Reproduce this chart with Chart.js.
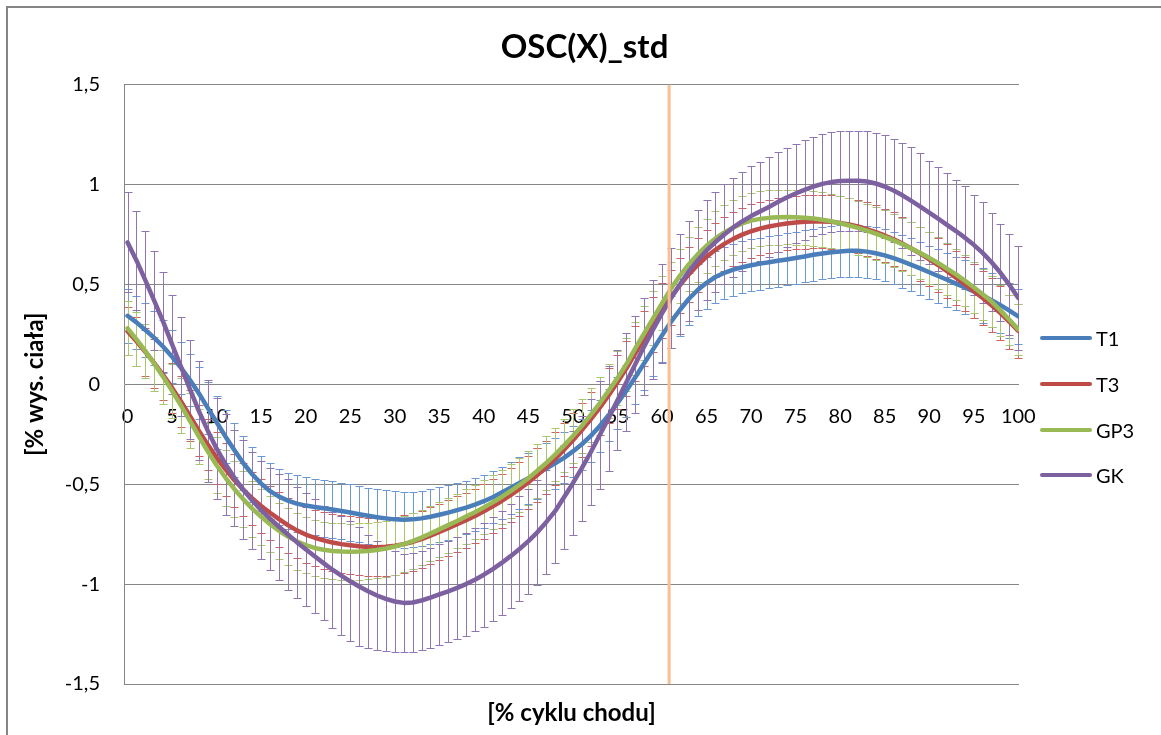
<!DOCTYPE html>
<html lang="pl">
<head>
<meta charset="utf-8">
<title>OSC(X)_std</title>
<script src="https://cdn.jsdelivr.net/npm/chart.js@4.4.1/dist/chart.umd.min.js"></script>
<style>
    html, body { margin: 0; padding: 0; background: #fff; overflow: hidden; }
    #frame {
        position: absolute; left: 6px; top: 6px; width: 1200px; height: 800px;
        border: 2px solid #858585; box-sizing: border-box;
    }
    #wrap { position: absolute; left: 0; top: 0; width: 1161px; height: 735px; }
    #legend { position: absolute; left: 1040px; top: 0; font-family: Lato, sans-serif; font-size: 20px; color: #000; }
    .legend-item { position: absolute; left: 0; height: 24px; line-height: 24px; display: flex; align-items: center; white-space: nowrap; }
    .legend-line { display: inline-block; width: 52px; height: 4px; border-radius: 2px; margin-right: 4px; }
</style>
</head>
<body>
<div id="frame"></div>
<div id="wrap"><canvas id="chart" width="1161" height="735"></canvas></div>
<div id="legend"></div>
<script>
// % of gait cycle
const cycle = [
    0, 1, 2, 3, 4, 5, 6, 7, 8, 9, 10, 11, 12, 13, 14, 15, 16, 17, 18, 19,
    20, 21, 22, 23, 24, 25, 26, 27, 28, 29, 30, 31, 32, 33, 34, 35, 36, 37, 38, 39,
    40, 41, 42, 43, 44, 45, 46, 47, 48, 49, 50, 51, 52, 53, 54, 55, 56, 57, 58, 59,
    60, 61, 62, 63, 64, 65, 66, 67, 68, 69, 70, 71, 72, 73, 74, 75, 76, 77, 78, 79,
    80, 81, 82, 83, 84, 85, 86, 87, 88, 89, 90, 91, 92, 93, 94, 95, 96, 97, 98, 99, 100
];
const xTicks = [0, 5, 10, 15, 20, 25, 30, 35, 40, 45, 50, 55, 60, 65, 70, 75, 80, 85, 90, 95, 100];
const yTicks = [-1.5, -1, -0.5, 0, 0.5, 1, 1.5];
const stanceEnd = 60.8;

const seriesNames = ['T1', 'T3', 'GP3', 'GK'];

const t1Mean = [
    0.343, 0.310, 0.272, 0.232, 0.188, 0.138, 0.082, 0.022, -0.045, -0.118,
    -0.190, -0.262, -0.330, -0.395, -0.450, -0.497, -0.535, -0.562, -0.582, -0.597,
    -0.607, -0.614, -0.620, -0.627, -0.634, -0.642, -0.650, -0.658, -0.665, -0.671,
    -0.676, -0.678, -0.676, -0.671, -0.663, -0.653, -0.642, -0.630, -0.617, -0.602,
    -0.585, -0.565, -0.542, -0.518, -0.494, -0.470, -0.446, -0.422, -0.396, -0.368,
    -0.336, -0.300, -0.258, -0.210, -0.155, -0.095, -0.032, 0.035, 0.105, 0.175,
    0.245, 0.312, 0.372, 0.427, 0.472, 0.508, 0.537, 0.558, 0.574, 0.586,
    0.596, 0.604, 0.611, 0.618, 0.625, 0.632, 0.640, 0.648, 0.655, 0.661,
    0.665, 0.668, 0.668, 0.664, 0.656, 0.645, 0.631, 0.615, 0.598, 0.580,
    0.561, 0.542, 0.523, 0.504, 0.485, 0.465, 0.444, 0.421, 0.396, 0.369,
    0.340
];
const t1Std = [
    0.135, 0.134, 0.134, 0.133, 0.133, 0.132, 0.132, 0.131, 0.131, 0.132,
    0.133, 0.134, 0.135, 0.136, 0.137, 0.138, 0.139, 0.140, 0.140, 0.141,
    0.141, 0.142, 0.142, 0.142, 0.142, 0.141, 0.141, 0.141, 0.140, 0.140,
    0.140, 0.140, 0.139, 0.139, 0.138, 0.137, 0.136, 0.135, 0.134, 0.133,
    0.132, 0.131, 0.130, 0.129, 0.128, 0.128, 0.127, 0.127, 0.127, 0.127,
    0.128, 0.128, 0.129, 0.130, 0.130, 0.131, 0.131, 0.132, 0.132, 0.132,
    0.132, 0.132, 0.131, 0.131, 0.130, 0.130, 0.130, 0.130, 0.130, 0.130,
    0.130, 0.130, 0.130, 0.130, 0.130, 0.130, 0.130, 0.130, 0.130, 0.130,
    0.130, 0.130, 0.130, 0.130, 0.130, 0.130, 0.131, 0.131, 0.132, 0.132,
    0.133, 0.133, 0.134, 0.134, 0.135, 0.135, 0.136, 0.136, 0.137, 0.137,
    0.138
];

const t3Mean = [
    0.265, 0.215, 0.162, 0.106, 0.046, -0.018, -0.086, -0.158, -0.232, -0.302,
    -0.367, -0.426, -0.480, -0.528, -0.571, -0.609, -0.643, -0.675, -0.705, -0.731,
    -0.752, -0.768, -0.781, -0.792, -0.800, -0.806, -0.811, -0.814, -0.815, -0.813,
    -0.808, -0.800, -0.789, -0.775, -0.758, -0.739, -0.720, -0.700, -0.680, -0.659,
    -0.636, -0.611, -0.584, -0.555, -0.524, -0.490, -0.454, -0.415, -0.373, -0.328,
    -0.280, -0.229, -0.175, -0.118, -0.056, 0.010, 0.080, 0.155, 0.230, 0.300,
    0.370, 0.435, 0.495, 0.550, 0.597, 0.638, 0.673, 0.703, 0.728, 0.749,
    0.766, 0.779, 0.790, 0.798, 0.805, 0.810, 0.813, 0.815, 0.815, 0.813,
    0.808, 0.800, 0.790, 0.777, 0.762, 0.745, 0.726, 0.704, 0.680, 0.654,
    0.626, 0.597, 0.566, 0.534, 0.501, 0.467, 0.432, 0.395, 0.356, 0.313,
    0.267
];
const t3Std = [
    0.120, 0.121, 0.122, 0.123, 0.124, 0.125, 0.126, 0.127, 0.128, 0.129,
    0.130, 0.131, 0.132, 0.133, 0.134, 0.135, 0.136, 0.137, 0.138, 0.139,
    0.140, 0.141, 0.142, 0.143, 0.144, 0.145, 0.145, 0.145, 0.145, 0.145,
    0.145, 0.144, 0.144, 0.143, 0.142, 0.141, 0.140, 0.139, 0.138, 0.137,
    0.136, 0.135, 0.134, 0.134, 0.133, 0.133, 0.133, 0.133, 0.133, 0.133,
    0.134, 0.134, 0.135, 0.135, 0.136, 0.136, 0.137, 0.137, 0.137, 0.137,
    0.137, 0.137, 0.137, 0.136, 0.136, 0.136, 0.135, 0.135, 0.135, 0.135,
    0.135, 0.134, 0.134, 0.134, 0.134, 0.134, 0.134, 0.134, 0.134, 0.134,
    0.134, 0.134, 0.134, 0.134, 0.134, 0.134, 0.134, 0.134, 0.134, 0.135,
    0.135, 0.135, 0.135, 0.135, 0.135, 0.135, 0.135, 0.135, 0.135, 0.135,
    0.135
];

const gp3Mean = [
    0.280, 0.225, 0.166, 0.103, 0.037, -0.033, -0.107, -0.183, -0.260, -0.335,
    -0.405, -0.468, -0.525, -0.576, -0.622, -0.663, -0.700, -0.733, -0.762, -0.786,
    -0.805, -0.819, -0.828, -0.834, -0.837, -0.838, -0.837, -0.834, -0.829, -0.822,
    -0.812, -0.800, -0.785, -0.767, -0.747, -0.726, -0.705, -0.684, -0.662, -0.640,
    -0.616, -0.591, -0.564, -0.535, -0.504, -0.470, -0.433, -0.394, -0.352, -0.307,
    -0.259, -0.208, -0.153, -0.095, -0.033, 0.031, 0.100, 0.180, 0.255, 0.330,
    0.405, 0.478, 0.543, 0.600, 0.650, 0.693, 0.730, 0.760, 0.785, 0.805,
    0.819, 0.828, 0.833, 0.836, 0.837, 0.836, 0.834, 0.830, 0.824, 0.816,
    0.806, 0.795, 0.783, 0.769, 0.754, 0.738, 0.720, 0.701, 0.680, 0.657,
    0.633, 0.607, 0.579, 0.550, 0.519, 0.486, 0.451, 0.414, 0.370, 0.323,
    0.275
];
const gp3Std = [
    0.135, 0.135, 0.136, 0.136, 0.137, 0.137, 0.138, 0.138, 0.138, 0.139,
    0.139, 0.139, 0.140, 0.140, 0.140, 0.140, 0.141, 0.141, 0.141, 0.141,
    0.141, 0.141, 0.141, 0.141, 0.141, 0.141, 0.141, 0.141, 0.140, 0.140,
    0.140, 0.140, 0.139, 0.139, 0.138, 0.138, 0.137, 0.137, 0.136, 0.136,
    0.135, 0.135, 0.135, 0.134, 0.134, 0.134, 0.134, 0.134, 0.134, 0.134,
    0.134, 0.134, 0.134, 0.134, 0.134, 0.134, 0.134, 0.134, 0.135, 0.135,
    0.135, 0.135, 0.135, 0.135, 0.136, 0.136, 0.136, 0.136, 0.137, 0.137,
    0.137, 0.137, 0.137, 0.137, 0.137, 0.137, 0.137, 0.136, 0.136, 0.136,
    0.135, 0.135, 0.135, 0.134, 0.134, 0.133, 0.133, 0.132, 0.132, 0.131,
    0.131, 0.130, 0.130, 0.129, 0.129, 0.128, 0.128, 0.127, 0.127, 0.126,
    0.126
];

const gkMean = [
    0.710, 0.620, 0.520, 0.418, 0.312, 0.200, 0.088, -0.024, -0.133, -0.232,
    -0.322, -0.400, -0.468, -0.528, -0.582, -0.630, -0.673, -0.713, -0.752, -0.790,
    -0.826, -0.861, -0.895, -0.928, -0.958, -0.986, -1.012, -1.036, -1.057, -1.074,
    -1.087, -1.094, -1.092, -1.082, -1.068, -1.052, -1.036, -1.019, -1.000, -0.978,
    -0.953, -0.925, -0.894, -0.860, -0.824, -0.785, -0.741, -0.690, -0.635, -0.565,
    -0.495, -0.420, -0.340, -0.255, -0.170, -0.080, 0.010, 0.100, 0.190, 0.275,
    0.355, 0.430, 0.500, 0.565, 0.620, 0.670, 0.712, 0.750, 0.785, 0.815,
    0.842, 0.865, 0.888, 0.912, 0.935, 0.955, 0.973, 0.990, 1.003, 1.012,
    1.017, 1.019, 1.019, 1.015, 1.005, 0.990, 0.970, 0.946, 0.918, 0.889,
    0.859, 0.829, 0.798, 0.767, 0.734, 0.698, 0.658, 0.611, 0.558, 0.498,
    0.432
];
const gkStd = [
    0.250, 0.248, 0.248, 0.248, 0.250, 0.248, 0.249, 0.248, 0.248, 0.255,
    0.252, 0.253, 0.240, 0.248, 0.242, 0.246, 0.255, 0.265, 0.278, 0.278,
    0.282, 0.285, 0.285, 0.290, 0.298, 0.300, 0.296, 0.282, 0.272, 0.262,
    0.252, 0.245, 0.246, 0.248, 0.250, 0.252, 0.254, 0.256, 0.258, 0.259,
    0.260, 0.261, 0.262, 0.262, 0.263, 0.263, 0.262, 0.261, 0.260, 0.260,
    0.260, 0.262, 0.266, 0.270, 0.262, 0.250, 0.246, 0.244, 0.244, 0.246,
    0.248, 0.250, 0.250, 0.250, 0.250, 0.250, 0.250, 0.250, 0.250, 0.250,
    0.250, 0.250, 0.250, 0.250, 0.250, 0.250, 0.250, 0.250, 0.250, 0.250,
    0.250, 0.250, 0.250, 0.252, 0.255, 0.259, 0.256, 0.263, 0.269, 0.269,
    0.259, 0.261, 0.262, 0.254, 0.258, 0.249, 0.252, 0.245, 0.242, 0.252,
    0.262
];

const seriesMeans = [t1Mean, t3Mean, gp3Mean, gkMean];
const seriesStds = [t1Std, t3Std, gp3Std, gkStd];
const lineColors = ['#4a7ebb', '#be4b48', '#98b954', '#7d60a0'];
const barColors = ['#6b98d0', '#cf6361', '#a9c66e', '#8f75b1'];

class OscChart {
    constructor() {
        this.fontFamily = 'Lato, "Open Sans", sans-serif';
        this.init();
    }

    init() {
        Chart.defaults.font.family = this.fontFamily;
        Chart.defaults.color = '#000';
        this.renderLegend();
        this.renderChart();
    }

    buildDatasets() {
        const datasets = seriesNames.map((name, s) => ({
            label: name,
            data: cycle.map((x, i) => ({ x, y: seriesMeans[s][i] })),
            errors: seriesStds[s],
            errorColor: barColors[s],
            borderColor: lineColors[s],
            backgroundColor: lineColors[s],
            borderWidth: 4.5,
            borderCapStyle: 'round',
            borderJoinStyle: 'round',
            pointRadius: 0,
            tension: 0,
            // later series sit on top, as in the spreadsheet
            order: seriesNames.length - s
        }));

        // vertical marker at the end of stance phase
        datasets.push({
            label: 'marker',
            data: [{ x: stanceEnd, y: yTicks[0] }, { x: stanceEnd, y: yTicks[yTicks.length - 1] }],
            borderColor: '#fabf8f',
            borderWidth: 3,
            pointRadius: 0,
            order: 0
        });
        return datasets;
    }

    errorBarPlugin() {
        return {
            id: 'errorBars',
            beforeDatasetsDraw(chart) {
                const { ctx, scales: { x, y } } = chart;
                ctx.save();
                ctx.lineWidth = 1;
                chart.data.datasets.forEach(ds => {
                    if (!ds.errors) return;
                    ctx.strokeStyle = ds.errorColor;
                    ctx.beginPath();
                    ds.data.forEach((pt, i) => {
                        const px = Math.round(x.getPixelForValue(pt.x)) + 0.5;
                        const top = Math.round(y.getPixelForValue(pt.y + ds.errors[i])) + 0.5;
                        const bot = Math.round(y.getPixelForValue(pt.y - ds.errors[i])) + 0.5;
                        ctx.moveTo(px, top);
                        ctx.lineTo(px, bot);
                        ctx.moveTo(px - 4, top);
                        ctx.lineTo(px + 4, top);
                        ctx.moveTo(px - 4, bot);
                        ctx.lineTo(px + 4, bot);
                    });
                    ctx.stroke();
                });
                ctx.restore();
            }
        };
    }

    renderChart() {
        const ctx = document.getElementById('chart').getContext('2d');
        const xMin = -0.4;
        const xMax = 100.08;

        this.chart = new Chart(ctx, {
            type: 'line',
            data: { datasets: this.buildDatasets() },
            plugins: [this.errorBarPlugin()],
            options: {
                responsive: false,
                animation: false,
                devicePixelRatio: 1,
                layout: { padding: { left: 8, right: 0, top: 0, bottom: 0 } },
                plugins: {
                    legend: { display: false },
                    tooltip: { enabled: false },
                    title: {
                        display: true,
                        text: 'OSC(X)_std',
                        color: '#000',
                        font: { size: 33, weight: 'bold' },
                        padding: { top: 28, bottom: 17 }
                    }
                },
                scales: {
                    x: {
                        type: 'linear',
                        min: xMin,
                        max: xMax,
                        position: { y: 0 },
                        grid: { display: false, drawTicks: false },
                        border: { display: false },
                        afterBuildTicks: scale => {
                            scale.ticks = xTicks.map(v => ({ value: v }));
                        },
                        ticks: {
                            padding: 20,
                            maxRotation: 0,
                            autoSkip: false,
                            color: '#000',
                            font: { size: 20 }
                        }
                    },
                    xTitle: {
                        type: 'linear',
                        position: 'bottom',
                        min: xMin,
                        max: xMax,
                        grid: { display: false, drawTicks: false },
                        border: { display: false },
                        ticks: { display: false },
                        title: {
                            display: true,
                            text: '[% cyklu chodu]',
                            color: '#000',
                            font: { size: 24, weight: 'bold' },
                            padding: { top: 0, bottom: 7 }
                        },
                        afterFit: scale => { scale.height = 51; }
                    },
                    y: {
                        type: 'linear',
                        min: yTicks[0],
                        max: yTicks[yTicks.length - 1],
                        afterBuildTicks: scale => {
                            scale.ticks = yTicks.map(v => ({ value: v }));
                        },
                        afterFit: scale => { scale.width = 116; },
                        grid: { color: '#868686', lineWidth: 1, drawTicks: false },
                        border: { display: true, color: '#868686', width: 1 },
                        ticks: {
                            padding: 24,
                            color: '#000',
                            font: { size: 20 },
                            callback: v => String(v).replace('.', ',')
                        },
                        title: {
                            display: true,
                            text: '[% wys. ciała]',
                            color: '#000',
                            font: { size: 24, weight: 'bold' },
                            padding: { top: 13, bottom: 0 }
                        }
                    },
                    // empty column on the right that holds the legend
                    legendSpace: {
                        type: 'linear',
                        position: 'right',
                        min: yTicks[0],
                        max: yTicks[yTicks.length - 1],
                        grid: { display: false, drawTicks: false },
                        border: { display: false },
                        ticks: { display: false },
                        afterFit: scale => { scale.width = 142; }
                    }
                }
            }
        });
    }

    renderLegend() {
        const legend = document.getElementById('legend');
        const firstCenter = 338;
        const step = 45.8;
        seriesNames.forEach((name, i) => {
            const item = document.createElement('div');
            item.className = 'legend-item';
            item.style.top = `${Math.round(firstCenter + i * step - 12)}px`;
            item.innerHTML = `<span class="legend-line" style="background:${lineColors[i]}"></span>${name}`;
            legend.appendChild(item);
        });
    }
}

document.addEventListener('DOMContentLoaded', () => {
    new OscChart();
});
</script>
</body>
</html>
